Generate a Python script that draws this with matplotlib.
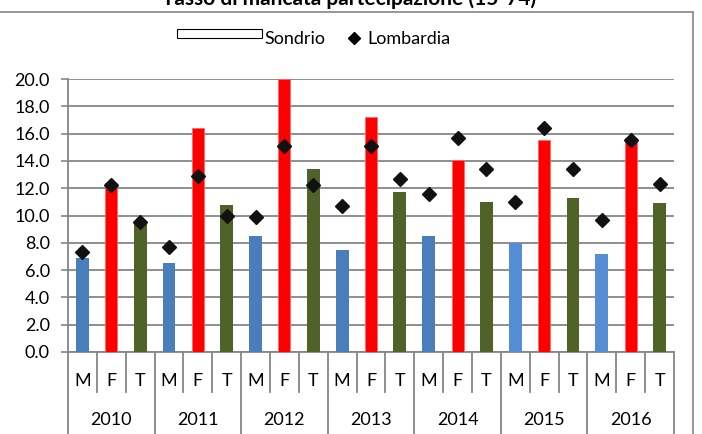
import matplotlib
matplotlib.use("Agg")
import matplotlib.pyplot as plt
from matplotlib.patches import Rectangle
from matplotlib.lines import Line2D
import matplotlib.transforms as mtransforms

plt.rcParams['font.family'] = ['Lato', 'DejaVu Sans']

years = ['2010', '2011', '2012', '2013', '2014', '2015', '2016']
groups = ['M', 'F', 'T']
sondrio_M = [6.9, 6.5, 8.5, 7.5, 8.5, 8.0, 7.2]
sondrio_F = [12.4, 16.4, 20.0, 17.2, 14.1, 15.5, 15.7]
sondrio_T = [9.4, 10.8, 13.4, 11.7, 11.0, 11.3, 10.9]
lombardia_M = [7.3, 7.7, 9.9, 10.7, 11.6, 11.0, 9.7]
lombardia_F = [12.2, 12.9, 15.1, 15.1, 15.7, 16.4, 15.5]
lombardia_T = [9.5, 10.0, 12.2, 12.7, 13.4, 13.4, 12.3]

title = 'Tasso di mancata partecipazione (15-74)'

W, H = 702, 434
fig = plt.figure(figsize=(W / 100, H / 100), dpi=100)
ax = fig.add_axes([68 / W, 1 - 352 / H, (674 - 68) / W, (352 - 79) / H])

grey = '#868686'
col_M = ['#4A7EBB'] * 5 + ['#558ED5'] * 2
col_F = '#FF0000'
col_T = '#4F6228'
fs = 13

xs_M = [3 * i for i in range(len(years))]
xs_F = [3 * i + 1 for i in range(len(years))]
xs_T = [3 * i + 2 for i in range(len(years))]

ax.bar(xs_M, sondrio_M, width=0.45, color=col_M, zorder=3)
ax.bar(xs_F, sondrio_F, width=0.42, color=col_F, edgecolor='#FF6666', linewidth=0.6, zorder=3)
ax.bar(xs_T, sondrio_T, width=0.45, color=col_T, zorder=3)

ax.plot(xs_M + xs_F + xs_T, lombardia_M + lombardia_F + lombardia_T, linestyle='none',
        marker='D', markersize=7.5, color='#111111', zorder=4)

ax.set_xlim(-0.5, 3 * len(years) - 0.5)
ax.set_ylim(0, 20)
ax.set_yticks([i * 2 for i in range(11)])
ax.set_yticklabels(['%.1f' % (i * 2) for i in range(11)], fontsize=fs)
ax.yaxis.grid(True, color=grey, linewidth=1.3, zorder=0)
ax.set_axisbelow(True)
ax.tick_params(axis='y', length=5, width=1.2, color=grey, pad=8)
ax.set_xticks([])
for s in ['top', 'right']:
    ax.spines[s].set_visible(False)
for s in ['left', 'bottom']:
    ax.spines[s].set_color(grey)
    ax.spines[s].set_linewidth(1.3)

trans = mtransforms.blended_transform_factory(ax.transData, ax.transAxes)
ncat = 3 * len(years)
for k in range(ncat + 1):
    xb = k - 0.5
    y_end = -0.32 if k % 3 == 0 else -0.147
    ax.add_line(Line2D([xb, xb], [0, y_end], transform=trans, color=grey,
                       linewidth=1.3, clip_on=False))
for i, yr in enumerate(years):
    for j, g in enumerate(groups):
        ax.text(3 * i + j, -0.106, g, transform=trans, ha='center', va='center', fontsize=fs)
    ax.text(3 * i + 1, -0.249, yr, transform=trans, ha='center', va='center', fontsize=fs)

# outer chart frame
fig.patches.append(Rectangle((-0.01, -0.01), 693 / W + 0.01, 1 - 12 / H + 0.01,
                             transform=fig.transFigure, fill=False,
                             edgecolor=grey, linewidth=1.2))

# title (partially cut at top, as in the reference)
fig.text(349 / W, 1 - 5 / H, title, ha='center', va='baseline', fontsize=15,
         fontweight='bold')

# legend
fig.patches.append(Rectangle((177 / W, 1 - 38 / H), 85 / W, 9 / H,
                             transform=fig.transFigure, facecolor='white',
                             edgecolor='black', linewidth=0.8))
fig.text(264 / W, 1 - 39 / H, 'Sondrio', ha='left', va='center', fontsize=fs)
fig.add_artist(Line2D([354 / W], [1 - 38 / H], transform=fig.transFigure,
                      marker='D', markersize=6.5, color='black', linestyle='none'))
fig.text(367 / W, 1 - 39 / H, 'Lombardia', ha='left', va='center', fontsize=fs)

fig.savefig('out.png', dpi=100)
